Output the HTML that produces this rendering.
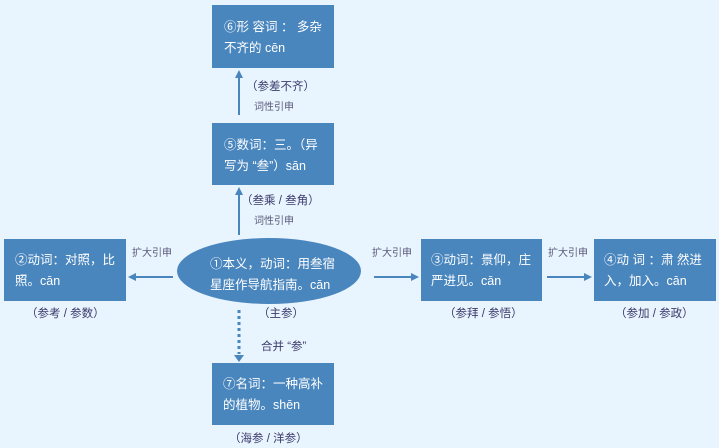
<!DOCTYPE html>
<html><head><meta charset="utf-8"><style>
html,body{margin:0;padding:0;background:#e8f4fe;}
svg{display:block;}
text{font-family:"Liberation Sans","Noto Sans CJK SC",sans-serif;}
.w{fill:#fff;font-size:12.5px;}
.l{fill:#3a3a6a;font-size:11.5px;}
.s{fill:#5a5a7a;font-size:10px;}
</style></head><body>
<svg width="719" height="448" viewBox="0 0 719 448">
<defs><marker id="a" markerWidth="8" markerHeight="8" refX="6" refY="4" orient="auto" markerUnits="userSpaceOnUse"><path d="M0,0 L8,4 L0,8z" fill="#4a86be"/></marker></defs>
<rect width="719" height="448" fill="#e8f4fe"/>
<g fill="#4a86be">
<rect x="212" y="5" width="122" height="63"/>
<rect x="212" y="123" width="122" height="62"/>
<rect x="4" y="239" width="122" height="62"/>
<ellipse cx="269" cy="271" rx="92" ry="33"/>
<rect x="421" y="239" width="121" height="62"/>
<rect x="594" y="239" width="122" height="62"/>
<rect x="212" y="363" width="122" height="62"/>
</g>
<g stroke="#4a86be" stroke-width="2" fill="none" marker-end="url(#a)">
<line x1="239" y1="115" x2="239" y2="72"/>
<line x1="239" y1="235" x2="239" y2="189"/>
<line x1="173" y1="277" x2="130" y2="277"/>
<line x1="374" y1="277" x2="417" y2="277"/>
<line x1="547" y1="277" x2="590" y2="277"/>
</g>
<line x1="239" y1="310" x2="239" y2="354" stroke="#4a86be" stroke-width="3" stroke-dasharray="3,3"/>
<path d="M234,355 L244,355 L239,362z" fill="#4a86be"/>
<text class="w" x="224" y="31">⑥形 容词 ： 多杂</text>
<text class="w" x="224" y="52">不齐的 cēn</text>
<text class="w" x="224" y="149">⑤数词：三。（异</text>
<text class="w" x="224" y="170">写为 “叁”）sān</text>
<text class="w" x="15" y="264">②动词：对照，比</text>
<text class="w" x="15" y="285">照。cān</text>
<text class="w" x="210" y="268">①本义，动词：用叁宿</text>
<text class="w" x="210" y="289">星座作导航指南。cān</text>
<text class="w" x="431" y="264">③动词：景仰，庄</text>
<text class="w" x="431" y="285">严进见。cān</text>
<text class="w" x="604" y="264">④动 词 ：肃 然进</text>
<text class="w" x="604" y="285">入，加入。cān</text>
<text class="w" x="223" y="388">⑦名词：一种高补</text>
<text class="w" x="223" y="409">的植物。shēn</text>
<text class="l" x="246" y="90">（参差不齐）</text>
<text class="s" x="254" y="110">词性引申</text>
<text class="l" x="241" y="204">（叁乘 / 叁角）</text>
<text class="s" x="254" y="224">词性引申</text>
<text class="s" x="132" y="256">扩大引申</text>
<text class="s" x="372" y="256">扩大引申</text>
<text class="s" x="548" y="256">扩大引申</text>
<text class="l" x="26" y="317">（参考 / 参数）</text>
<text class="l" x="258" y="317">（主参）</text>
<text class="l" x="261" y="350">合并 “参”</text>
<text class="l" x="229" y="442">（海参 / 洋参）</text>
<text class="l" x="444" y="317">（参拜 / 参悟）</text>
<text class="l" x="615" y="317">（参加 / 参政）</text>
</svg>
</body></html>
